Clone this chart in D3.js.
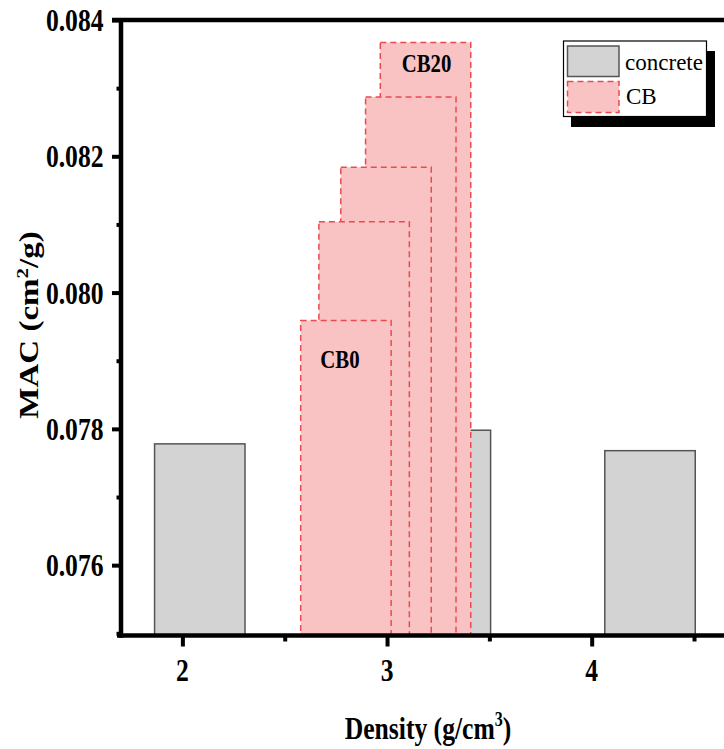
<!DOCTYPE html>
<html><head><meta charset="utf-8">
<script src="https://cdn.jsdelivr.net/npm/d3@7"></script>
<style>body{margin:0;background:#fff}svg{display:block}</style>
</head><body><svg id="c" width="724" height="749"></svg>
<script>
// ---- data ----
const concreteDensity = [2.085, 3.285, 4.285];
const concreteMAC = [0.07778, 0.07798, 0.07768];
const cbNames = ["CB0", "CB5", "CB10", "CB15", "CB20"];
const cbDensity = [2.799, 2.888, 2.995, 3.116, 3.188];
const cbMAC = [0.07959, 0.08104, 0.08184, 0.08287, 0.08367];
const xMajorTicks = [2, 3, 4];
const xMinorTicks = [2.5, 3.5, 4.5];
const yMajorTicks = [0.076, 0.078, 0.080, 0.082, 0.084];
const yMinorTicks = [0.075, 0.077, 0.079, 0.081, 0.083];
const legendLabels = ["concrete", "CB"];
const shownLabels = ["CB0", "CB20"];

// ---- layout / style ----
const BAR_W = 0.442;
const FONT = '"Liberation Serif","Times New Roman",serif';
const GRAY = "#d3d3d3", GRAY_S = "#555555";
const PINK = "#f9c3c4", PINK_S = "#ec4a50";
const DASH = "6,4";
const SX = 0.8;

const svg = d3.select("#c");
const x = d3.scaleLinear().domain([1.7, 4.7]).range([121, 121 + 3 * 204.65]);
const y = d3.scaleLinear().domain([0.075, 0.084]).range([633.3, 20]);
const yBase = y(0.075) + 2;

function ctext(g, px, py, str, opts) {
  const t = g.append("g").attr("transform", `translate(${px},${py}) scale(${opts.sx ?? SX},1)`)
    .append("text")
    .attr("font-family", FONT)
    .attr("font-size", opts.size)
    .attr("font-weight", opts.weight ?? "bold")
    .attr("text-anchor", opts.anchor ?? "middle")
    .attr("fill", "#000")
    .text(str);
  return t;
}

// concrete bars
const concrete = concreteDensity.map((d, i) => ({ d, v: concreteMAC[i] }));
svg.append("g").selectAll("rect").data(concrete).join("rect")
  .attr("x", c => x(c.d - BAR_W / 2))
  .attr("width", c => x(c.d + BAR_W / 2) - x(c.d - BAR_W / 2))
  .attr("y", c => y(c.v))
  .attr("height", c => yBase - y(c.v))
  .attr("fill", GRAY).attr("stroke", GRAY_S).attr("stroke-width", 1.5);

// CB bars (drawn back to front: CB20 first)
const cb = cbDensity.map((d, i) => ({ d, v: cbMAC[i], name: cbNames[i] })).reverse();
svg.append("g").selectAll("rect").data(cb).join("rect")
  .attr("x", c => x(c.d - BAR_W / 2))
  .attr("width", c => x(c.d + BAR_W / 2) - x(c.d - BAR_W / 2))
  .attr("y", c => y(c.v))
  .attr("height", c => yBase - y(c.v))
  .attr("fill", PINK).attr("stroke", PINK_S).attr("stroke-width", 1.5)
  .attr("stroke-dasharray", DASH);

// bar labels
const lab = svg.append("g");
shownLabels.forEach(n => {
  const i = cbNames.indexOf(n);
  const yy = n === "CB0" ? y(cbMAC[i]) + 47 : y(cbMAC[i]) + 30;
  ctext(lab, x(cbDensity[i]) + (n === "CB0" ? -6 : 1), yy, n, { size: 26 });
});

// axes
const ax = svg.append("g");
const yAxisX = 121, xAxisY = 635.5, AW = 4.5;
ax.append("line").attr("x1", yAxisX).attr("x2", yAxisX).attr("y1", 18).attr("y2", xAxisY + AW / 2)
  .attr("stroke", "#000").attr("stroke-width", AW);
ax.append("line").attr("x1", 112).attr("x2", 724).attr("y1", y(0.084)).attr("y2", y(0.084))
  .attr("stroke", "#000").attr("stroke-width", AW);
ax.append("line").attr("x1", 117).attr("x2", 724).attr("y1", xAxisY).attr("y2", xAxisY)
  .attr("stroke", "#000").attr("stroke-width", AW);

const yAx = d3.axisLeft(y).tickValues(yMajorTicks).tickSize(9).tickSizeOuter(0).tickFormat("");
const gY = ax.append("g").attr("transform", `translate(${yAxisX},0)`).call(yAx);
const yAxMin = d3.axisLeft(y).tickValues(yMinorTicks).tickSize(4.5).tickSizeOuter(0).tickFormat("");
const gY2 = ax.append("g").attr("transform", `translate(${yAxisX},0)`).call(yAxMin);
const xAx = d3.axisBottom(x).tickValues(xMajorTicks).tickSize(11).tickSizeOuter(0).tickFormat("");
const gX = ax.append("g").attr("transform", `translate(0,${xAxisY})`).call(xAx);
const xAxMin = d3.axisBottom(x).tickValues(xMinorTicks).tickSize(6).tickSizeOuter(0).tickFormat("");
const gX2 = ax.append("g").attr("transform", `translate(0,${xAxisY})`).call(xAxMin);
[gY, gY2, gX, gX2].forEach(g => {
  g.select(".domain").remove();
  g.selectAll(".tick line").attr("stroke", "#000").attr("stroke-width", 4);
});

// tick labels
yMajorTicks.forEach(t => {
  ctext(ax, 103.5, y(t) + 11, d3.format(".3f")(t), { size: 32, anchor: "end" });
});
xMajorTicks.forEach(t => {
  ctext(ax, x(t), 681, String(t), { size: 32 });
});

// axis titles
const xt = ctext(svg, 428, 739, "", { size: 32 });
xt.append("tspan").text("Density (g/cm");
xt.append("tspan").text("3").attr("font-size", 20).attr("dy", -13);
xt.append("tspan").text(")").attr("dy", 13);

const yt = svg.append("g").attr("transform", `translate(38,325) rotate(-90) scale(1,${SX})`)
  .append("text").attr("font-family", FONT).attr("font-size", 33).attr("font-weight", "bold")
  .attr("text-anchor", "middle");
yt.append("tspan").text("MAC (cm");
yt.append("tspan").text("2").attr("font-size", 21).attr("dy", -13);
yt.append("tspan").text("/g)").attr("dy", 13);

// legend
const lg = svg.append("g");
lg.append("rect").attr("x", 571).attr("y", 51).attr("width", 144).attr("height", 76).attr("fill", "#000");
lg.append("rect").attr("x", 563.5).attr("y", 41).attr("width", 143).attr("height", 75.5)
  .attr("fill", "#fff").attr("stroke", "#000").attr("stroke-width", 1.2);
lg.append("rect").attr("x", 567.5).attr("y", 46).attr("width", 51.5).attr("height", 30.5)
  .attr("fill", GRAY).attr("stroke", GRAY_S).attr("stroke-width", 1.5);
lg.append("rect").attr("x", 567.5).attr("y", 81.5).attr("width", 51.5).attr("height", 31)
  .attr("fill", PINK).attr("stroke", PINK_S).attr("stroke-width", 1.5).attr("stroke-dasharray", DASH);
ctext(lg, 625, 70, legendLabels[0], { size: 24, weight: "normal", anchor: "start", sx: 0.96 });
ctext(lg, 626, 104, legendLabels[1], { size: 24, weight: "normal", anchor: "start", sx: 0.96 });
</script></body></html>
